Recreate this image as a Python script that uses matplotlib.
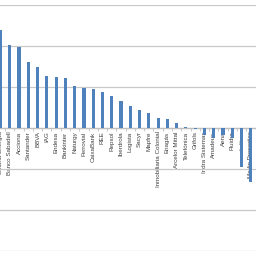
import numpy as np
import matplotlib
matplotlib.use("Agg")
import matplotlib.pyplot as plt

companies = ["Solaria Energía", "Banco Sabadell", "Acciona", "Santander", "BBVA", "IAG",
             "Endesa", "Bankinter", "Naturgy", "Ferrovial", "CaixaBank", "REE",
             "Repsol", "Iberdrola", "Logista", "Sacyr", "Mapfre", "Inmobiliaria Colonial",
             "Enagás", "Arcelor Mittal", "Telefónica", "Grifols", "Indra Sistemas",
             "Amadeus", "Aena", "Fluidra", "Inditex", "Merlin Properties"]
changes = [23.9, 20.2, 19.8, 16.2, 14.9, 12.6, 12.4, 12.1, 10.2, 9.8, 9.5, 8.9,
           7.9, 6.6, 5.3, 4.5, 3.7, 2.5, 2.1, 1.1, 0.2, -0.3, -1.7, -2.5, -1.8,
           -2.5, -9.5, -13.2]

fig = plt.figure(figsize=(2.56, 2.56), dpi=100)
ax = fig.add_axes([0, 0.0195, 1, 0.961])

x = np.arange(len(companies))
ax.bar(x, changes, width=0.34, color="#4f81bd", zorder=3)

ax.set_xlim(-0.054, 27.56)
ax.set_ylim(-30, 30)
ax.set_yticks(np.arange(-30, 31, 10))
ax.yaxis.grid(True, color="#c8c8c8", linewidth=0.9, zorder=0)
ax.tick_params(axis="y", left=False, labelleft=False)

for s in ["top", "left", "right"]:
    ax.spines[s].set_visible(False)
ax.spines["bottom"].set_position(("data", 0))
ax.spines["bottom"].set_color("#bfbfbf")
ax.spines["bottom"].set_linewidth(0.9)
ax.spines["bottom"].set_zorder(2)

ax.set_xticks(x)
ax.set_xticklabels(companies, rotation=90, fontsize=4.5, color="#404040",
                   family="Liberation Sans")
ax.tick_params(axis="x", which="major", length=0, pad=2.5)
ax.set_xticks(x[:-1] + 0.5, minor=True)
ax.tick_params(axis="x", which="minor", length=2, color="#bfbfbf", width=0.6)

fig.savefig("out.png", dpi=100)
